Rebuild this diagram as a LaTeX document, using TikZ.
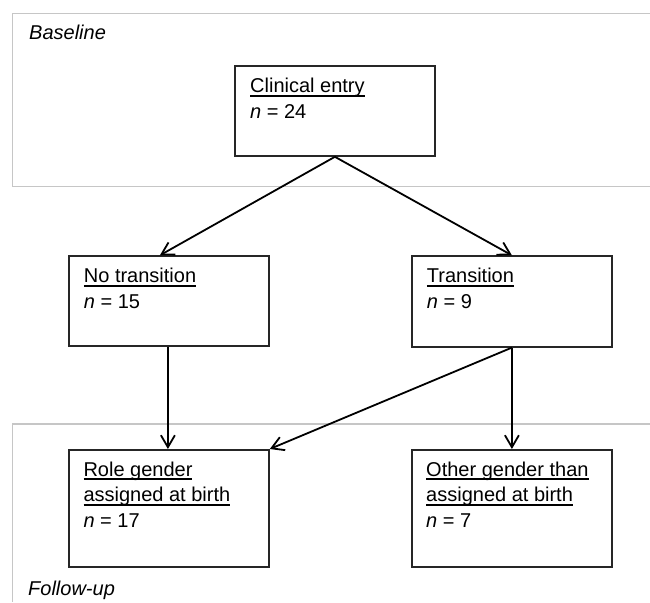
\documentclass[tikz,border=0pt]{standalone}
\usepackage{fontspec}
\setmainfont{Liberation Sans}
\usetikzlibrary{arrows.meta}
\newcommand\myul[1]{\setbox0\hbox{#1}\rlap{\rule[-3.9pt]{\wd0}{1.6pt}}\box0}
\newcommand\boxlines[1]{\vtop{\baselineskip=25.8pt\lineskiplimit=-20pt\lineskip=0pt #1}}
\begin{document}
\begin{tikzpicture}[x=1pt,y=-1pt,
  frame/.style={draw=gray!45, line width=1.7pt},
  stepbox/.style={draw=black!85, line width=1.8pt, minimum width=200pt, inner sep=0pt, anchor=north west},
  lbl/.style={anchor=base west, inner sep=0pt, font=\fontsize{20}{25.8}\selectfont},
  arr/.style={line width=1.8pt, -{Straight Barb[length=12pt,width=14pt]}}]
\useasboundingbox (0,0) rectangle (650,602);
% frames
\draw[frame] (650,13.5) -- (12.5,13.5) -- (12.5,186.5) -- (650,186.5);
\draw[frame] (650,424.3) -- (12.5,424.3) -- (12.5,602);
\node[lbl] (bl) at (29,39.3) {\textit{Baseline}};
\node[lbl] (fu) at (28,595) {\textit{Follow-up}};
% boxes
\node[stepbox, minimum height=90pt] (ce) at (234,65) {};
\node[stepbox, minimum height=90pt] (nt) at (68,255.3) {};
\node[stepbox, minimum height=90.5pt] (tr) at (411,255.3) {};
\node[stepbox, minimum height=117pt] (rg) at (68,449) {};
\node[stepbox, minimum height=117pt] (og) at (411,449) {};
% texts
\node[lbl] (ceT) at (250,92.7) {\boxlines{\hbox{\myul{Clinical entry}}\hbox{\textit{n} = 24}}};
\node[lbl] (ntT) at (83.7,282.7) {\boxlines{\hbox{\myul{No transition}}\hbox{\textit{n} = 15}}};
\node[lbl] (trT) at (426.7,282.7) {\boxlines{\hbox{\myul{Transition}}\hbox{\textit{n} = 9}}};
\node[lbl] (rgT) at (83.3,476) {\boxlines{\hbox{\myul{Role gender}}\hbox{\myul{assigned at birth}}\hbox{\textit{n} = 17}}};
\node[lbl] (ogT) at (426,476) {\boxlines{\hbox{\myul{Other gender than}}\hbox{\myul{assigned at birth}}\hbox{\textit{n} = 7}}};
% connectors
\draw[arr] (ce.south) -- ([xshift=-9pt]nt.north);
\draw[arr] (ce.south) -- (tr.north);
\draw[arr] ([xshift=-1pt]nt.south) -- ([xshift=-1pt]rg.north);
\draw[arr] (tr.south) -- (og.north);
\draw[arr] (tr.south) -- (rg.north east);
\end{tikzpicture}
\end{document}
